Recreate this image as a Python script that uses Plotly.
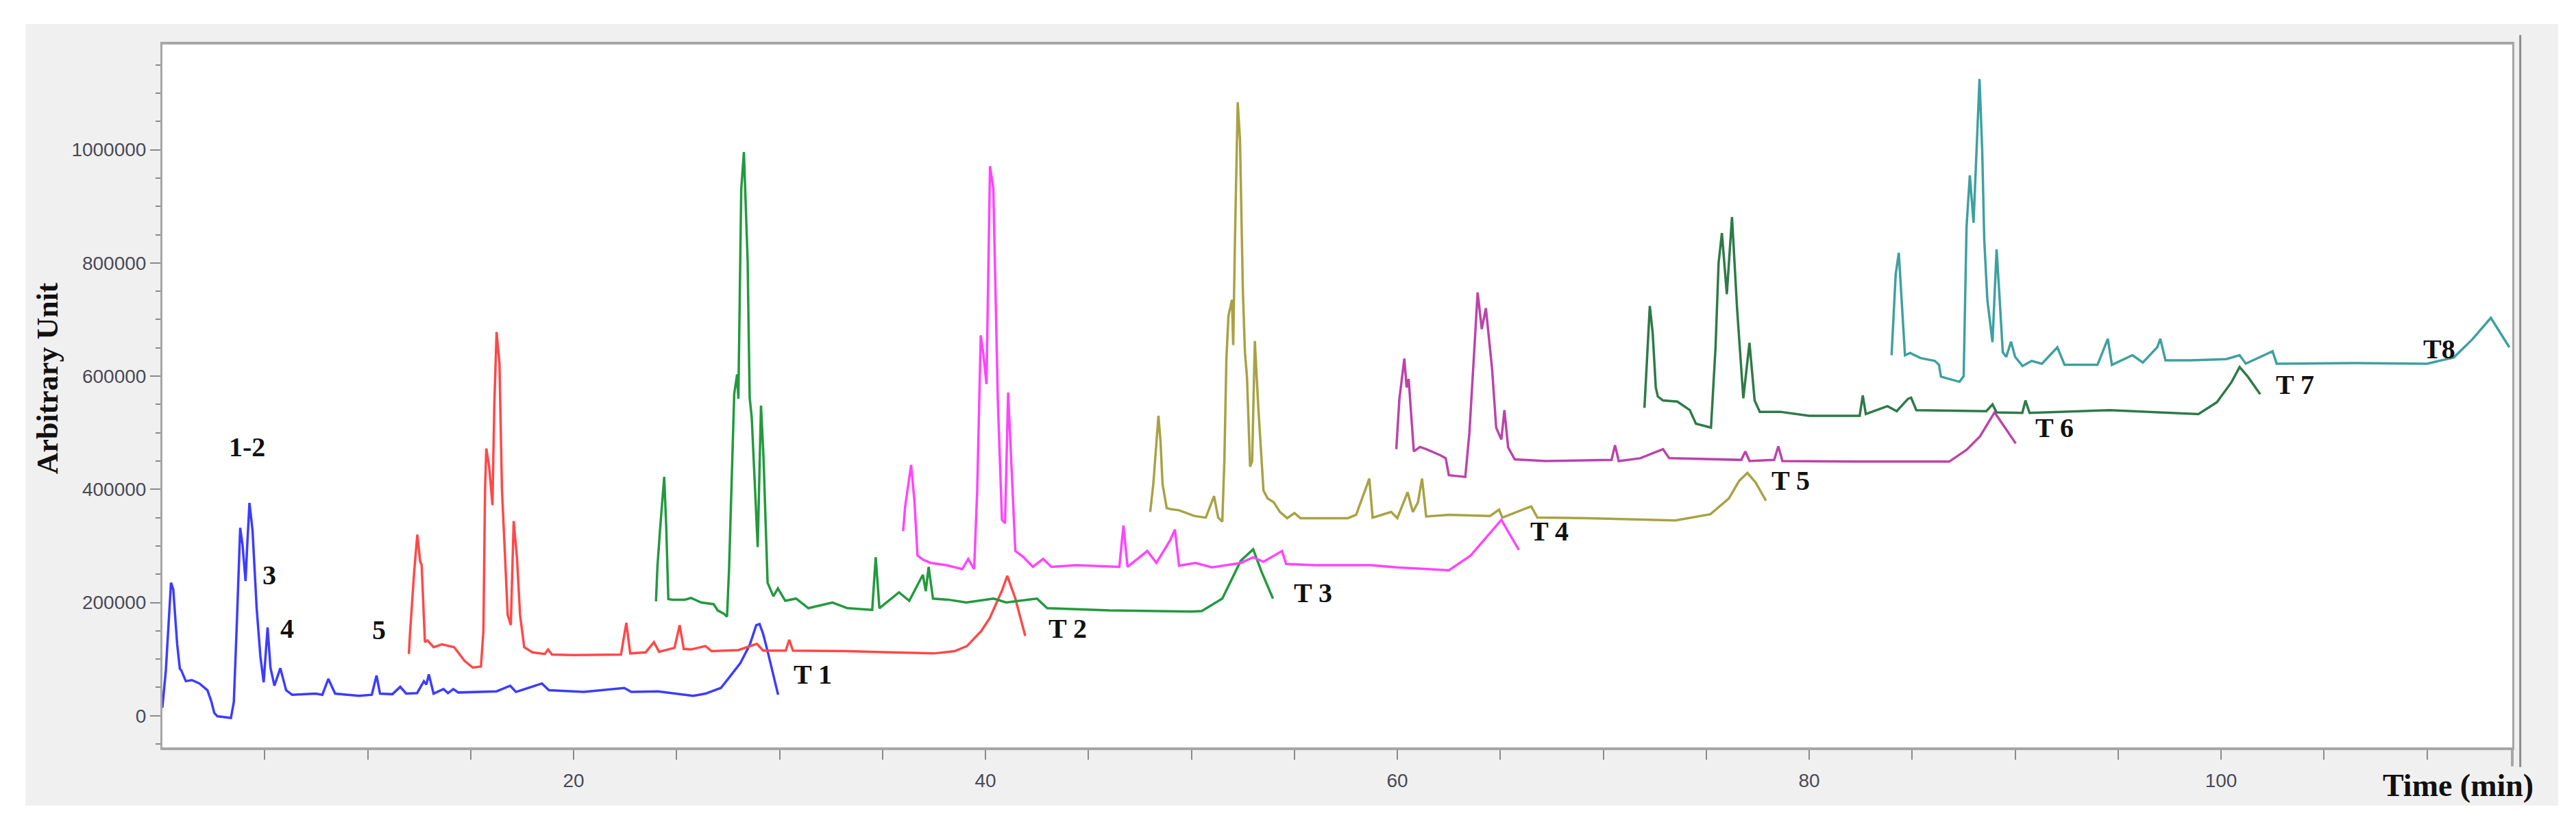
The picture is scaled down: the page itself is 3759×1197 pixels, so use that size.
import plotly.graph_objects as go

# chromatograms, time (min) / intensity (arbitrary unit)
t1_time = [0.03, 0.2, 0.45, 0.56, 0.75, 0.88, 0.95, 1.17, 1.46, 1.83, 2.22, 2.41, 2.55, 2.7, 3.36, 3.5, 3.65, 3.81, 3.92, 4.07, 4.15, 4.26, 4.41, 4.61, 4.79, 4.95, 5.14, 5.28, 5.47, 5.76, 6.04, 6.33, 7.47, 7.8, 8.09, 8.42, 9.57, 10.2, 10.43, 10.6, 11.2, 11.58, 11.87, 12.4, 12.73, 12.85, 12.97, 13.2, 13.68, 13.9, 14.16, 14.4, 16.26, 16.92, 17.2, 18.46, 18.8, 20.5, 22.46, 22.8, 24.1, 25.8, 26.4, 27.15, 27.5, 28.1, 28.55, 28.87, 29.03, 29.2, 29.4, 29.7, 29.93]
t1_signal = [14000, 80000, 235000, 223000, 126000, 83000, 80000, 61000, 63000, 57000, 45000, 25000, 5000, -1000, -4000, 24000, 166000, 332000, 303000, 238000, 300000, 376000, 327000, 190000, 105000, 59000, 156000, 85000, 53000, 84000, 45000, 37000, 39000, 37000, 65000, 39000, 35000, 37000, 71000, 39000, 38000, 51000, 39000, 40000, 61000, 55000, 73000, 39000, 47000, 40000, 47000, 41000, 43000, 53000, 42000, 57000, 45000, 42000, 49000, 42000, 43000, 35000, 39000, 49000, 65000, 93000, 125000, 160000, 162000, 145000, 117000, 70000, 37000]

t2_time = [12.0, 12.05, 12.25, 12.41, 12.55, 12.62, 12.78, 12.9, 13.2, 13.6, 14.2, 14.55, 14.7, 15.1, 15.5, 15.62, 15.7, 15.76, 15.9, 16.06, 16.15, 16.26, 16.4, 16.52, 16.6, 16.8, 16.95, 17.09, 17.25, 17.4, 17.6, 18.0, 18.6, 18.76, 18.95, 20.0, 22.3, 22.56, 22.75, 23.5, 23.9, 24.15, 24.9, 25.15, 25.35, 25.7, 26.4, 26.7, 28.0, 28.9, 29.2, 30.3, 30.47, 30.65, 33.3, 35.5, 37.5, 38.5, 39.1, 39.8, 40.2, 40.8, 41.06, 41.45, 41.93]
t2_signal = [109000, 142000, 250000, 320000, 272000, 267000, 130000, 133000, 121000, 126000, 121000, 105000, 97000, 85000, 87000, 150000, 400000, 472000, 440000, 372000, 550000, 678000, 622000, 400000, 335000, 178000, 160000, 344000, 279000, 178000, 121000, 112000, 109000, 117000, 108000, 107000, 108000, 164000, 110000, 112000, 130000, 113000, 120000, 160000, 118000, 117000, 123000, 114000, 116000, 127000, 115000, 115000, 134000, 115000, 114000, 112000, 110000, 114000, 123000, 150000, 172000, 221000, 247000, 207000, 141000]

t3_time = [24.0, 24.07, 24.2, 24.4, 24.5, 24.6, 24.8, 25.4, 25.7, 26.2, 26.8, 27.0, 27.3, 27.45, 27.55, 27.8, 27.94, 28.0, 28.14, 28.27, 28.45, 28.55, 28.65, 28.84, 28.94, 29.1, 29.22, 29.42, 29.7, 29.92, 30.28, 30.8, 31.4, 32.57, 33.3, 34.5, 34.67, 34.85, 35.8, 36.3, 36.96, 37.1, 37.24, 37.45, 38.2, 39.07, 40.4, 41.0, 42.5, 43.0, 46.0, 50.0, 50.5, 51.5, 52.4, 53.0, 53.4, 53.96]
t3_signal = [202000, 263000, 330000, 422000, 332000, 206000, 205000, 205000, 208000, 200000, 197000, 186000, 180000, 175000, 260000, 569000, 603000, 560000, 930000, 996000, 805000, 562000, 527000, 387000, 298000, 548000, 458000, 235000, 211000, 225000, 203000, 207000, 190000, 200000, 190000, 187000, 280000, 190000, 218000, 203000, 249000, 220000, 263000, 207000, 205000, 200000, 207000, 200000, 207000, 190000, 186000, 184000, 185000, 207000, 274000, 294000, 255000, 207000]

t4_time = [36.0, 36.1, 36.39, 36.5, 36.55, 36.7, 36.95, 37.34, 38.1, 38.87, 39.16, 39.45, 39.6, 39.77, 39.9, 40.05, 40.22, 40.38, 40.5, 40.6, 40.8, 40.95, 41.1, 41.25, 41.45, 41.85, 42.3, 42.8, 43.2, 44.4, 46.5, 46.7, 46.9, 47.86, 48.3, 48.98, 49.2, 49.4, 50.2, 51.0, 52.4, 53.0, 53.5, 54.4, 54.6, 56.0, 58.7, 60.0, 62.5, 63.56, 64.4, 65.05, 65.45, 65.9]
t4_signal = [326000, 370000, 443000, 402000, 380000, 283000, 276000, 270000, 266000, 259000, 277000, 259000, 400000, 672000, 638000, 586000, 971000, 932000, 700000, 557000, 346000, 340000, 571000, 458000, 291000, 280000, 263000, 277000, 263000, 266000, 263000, 336000, 263000, 291000, 270000, 311000, 329000, 265000, 270000, 262000, 270000, 280000, 272000, 291000, 268000, 266000, 266000, 262000, 257000, 283000, 318000, 346000, 321000, 293000]

t5_time = [48.0, 48.15, 48.4, 48.5, 48.6, 48.8, 49.0, 49.4, 50.14, 50.7, 51.1, 51.3, 51.5, 51.6, 51.7, 51.8, 51.97, 52.03, 52.12, 52.25, 52.36, 52.5, 52.6, 52.7, 52.85, 52.95, 53.08, 53.25, 53.5, 53.7, 54.0, 54.3, 54.65, 55.0, 55.3, 57.6, 58.0, 58.64, 58.8, 59.7, 60.0, 60.5, 60.75, 61.0, 61.2, 61.4, 62.5, 64.5, 64.94, 65.1, 66.5, 66.8, 69.3, 73.5, 75.2, 76.1, 76.6, 77.0, 77.4, 77.9]
t5_signal = [360000, 409000, 530000, 485000, 409000, 367000, 365000, 363000, 353000, 350000, 388000, 350000, 343000, 450000, 632000, 707000, 735000, 655000, 850000, 1084000, 1017000, 750000, 642000, 598000, 440000, 450000, 662000, 544000, 398000, 384000, 377000, 360000, 349000, 358000, 349000, 349000, 355000, 419000, 350000, 360000, 349000, 395000, 360000, 377000, 419000, 352000, 355000, 353000, 364000, 350000, 370000, 350000, 349000, 345000, 356000, 384000, 415000, 429000, 412000, 380000]

t6_time = [59.95, 60.1, 60.34, 60.45, 60.55, 60.7, 60.8, 61.1, 61.4, 62.1, 62.35, 62.5, 63.3, 63.5, 63.9, 64.1, 64.3, 64.6, 64.8, 65.05, 65.2, 65.38, 65.7, 67.2, 70.4, 70.57, 70.75, 71.8, 72.9, 73.2, 76.7, 76.9, 77.1, 78.3, 78.5, 78.7, 82.3, 86.8, 87.65, 88.3, 89.0, 89.45, 90.03]
t6_signal = [471000, 560000, 631000, 580000, 595000, 509000, 467000, 475000, 471000, 460000, 455000, 425000, 422000, 500000, 748000, 683000, 720000, 613000, 509000, 488000, 540000, 474000, 453000, 450000, 452000, 478000, 450000, 455000, 471000, 455000, 452000, 467000, 450000, 452000, 476000, 450000, 449000, 449000, 470000, 494000, 536000, 512000, 481000]

t7_time = [72.0, 72.1, 72.26, 72.4, 72.55, 72.65, 72.9, 73.6, 74.2, 74.5, 75.23, 75.45, 75.6, 75.76, 76.0, 76.25, 76.5, 76.8, 77.1, 77.35, 77.6, 78.6, 80.0, 82.45, 82.6, 82.75, 83.8, 84.25, 84.8, 84.95, 85.2, 88.6, 88.9, 89.1, 90.35, 90.5, 90.7, 94.6, 98.9, 99.8, 100.5, 100.9, 101.3, 101.9]
t7_signal = [544000, 620000, 724000, 676000, 580000, 564000, 557000, 555000, 540000, 516000, 509000, 650000, 800000, 853000, 745000, 881000, 718000, 561000, 659000, 557000, 537000, 537000, 530000, 530000, 566000, 533000, 547000, 538000, 560000, 562000, 540000, 538000, 550000, 536000, 535000, 557000, 535000, 540000, 533000, 554000, 589000, 616000, 599000, 568000]

t8_time = [84.0, 84.08, 84.2, 84.35, 84.45, 84.55, 84.65, 84.9, 85.4, 86.1, 86.3, 86.4, 87.3, 87.5, 87.64, 87.8, 87.98, 88.27, 88.4, 88.5, 88.65, 88.9, 89.1, 89.25, 89.4, 89.57, 89.8, 90.0, 90.36, 90.8, 91.3, 92.05, 92.4, 94.0, 94.5, 94.7, 95.7, 96.2, 96.9, 97.05, 97.3, 98.5, 100.25, 100.9, 101.2, 102.5, 102.7, 106.5, 110.0, 111.3, 112.2, 113.1, 113.5, 114.0]
t8_signal = [637000, 700000, 780000, 818000, 755000, 700000, 637000, 641000, 632000, 627000, 620000, 599000, 590000, 600000, 864000, 955000, 871000, 1125000, 1000000, 841000, 735000, 660000, 824000, 735000, 642000, 634000, 661000, 634000, 618000, 627000, 622000, 651000, 620000, 620000, 666000, 620000, 637000, 624000, 651000, 666000, 628000, 628000, 630000, 637000, 622000, 644000, 622000, 623000, 622000, 633000, 665000, 703000, 679000, 651000]

# peak / run labels
label_text = ["1-2", "3", "4", "5", "T 1", "T 2", "T 3", "T 4", "T 5", "T 6", "T 7", "T8"]
label_time = [4.13, 5.23, 6.09, 10.55, 31.6, 44.0, 55.9, 67.4, 79.1, 91.9, 103.6, 110.6]
label_signal = [475000, 248000, 154000, 152000, 72700, 154000, 217000, 326000, 416000, 509000, 585000, 648000]

runs = [
    (t1_time, t1_signal, "#3c3cff"),
    (t2_time, t2_signal, "#ff4848"),
    (t3_time, t3_signal, "#23993f"),
    (t4_time, t4_signal, "#ff44ff"),
    (t5_time, t5_signal, "#a8a244"),
    (t6_time, t6_signal, "#bb44aa"),
    (t7_time, t7_signal, "#2e7a48"),
    (t8_time, t8_signal, "#3fa0a0"),
]

fig = go.Figure()
for i, (tt, ss, col) in enumerate(runs):
    fig.add_trace(go.Scatter(x=tt, y=ss, mode="lines", name="T %d" % (i + 1),
                             line=dict(color=col, width=3.5)))

serif = "Liberation Serif, Times New Roman, serif"
for txt, tx, ty in zip(label_text, label_time, label_signal):
    fig.add_annotation(x=tx, y=ty, text="<b>%s</b>" % txt, showarrow=False,
                       xanchor="center", yanchor="middle",
                       font=dict(family=serif, size=40, color="#111111"))

fig.add_annotation(xref="paper", yref="paper", x=-0.049, y=0.525, text="<b>Arbitrary Unit</b>",
                   textangle=-90, showarrow=False, xanchor="center", yanchor="middle",
                   font=dict(family=serif, size=44, color="#111111"))
fig.add_annotation(xref="paper", yref="paper", x=0.977, y=-0.054, text="<b>Time (min)</b>",
                   showarrow=False, xanchor="center", yanchor="middle",
                   font=dict(family=serif, size=46, color="#111111"))

# grey panel behind the chart, white plotting area, double right frame
fig.add_shape(type="rect", xref="paper", yref="paper", x0=-0.0583, x1=1.0195, y0=-0.0828, y1=1.0292,
              fillcolor="#f0f0f0", line_width=0, layer="below")
fig.add_shape(type="rect", xref="paper", yref="paper", x0=0, x1=1, y0=0, y1=1,
              fillcolor="white", line_width=0, layer="below")
fig.add_shape(type="line", xref="paper", yref="paper", x0=1.0034, x1=1.0034, y0=-0.028, y1=1.0136,
              line=dict(color="#8c8c8c", width=3))
fig.add_shape(type="line", xref="paper", yref="paper", x0=1.0, x1=1.0, y0=-0.027, y1=0.0,
              line=dict(color="#a6a6a6", width=4))

tickfont = dict(family="Liberation Sans Narrow, Arial Narrow, Arial, sans-serif",
                size=28, color="#4a4a55")

fig.update_layout(
    width=3759, height=1197,
    margin=dict(l=229, r=101, t=57, b=114),
    paper_bgcolor="white", plot_bgcolor="white",
    showlegend=False,
    xaxis=dict(range=[0.033, 114.14], showgrid=False, zeroline=False,
               showline=True, mirror=True, linecolor="#a6a6a6", linewidth=4,
               tickmode="linear", tick0=0, dtick=20, ticks="outside", ticklen=14,
               tickwidth=2, tickcolor="#8a8a8a", tickfont=tickfont, ticklabelstandoff=6,
               minor=dict(tick0=0, dtick=5, ticks="outside", ticklen=14, tickwidth=2, tickcolor="#8a8a8a")),
    yaxis=dict(range=[-56000, 1186000], showgrid=False, zeroline=False,
               showline=True, mirror=True, linecolor="#a6a6a6", linewidth=3,
               tickmode="linear", tick0=0, dtick=200000, tickformat="d", ticks="outside", ticklen=15,
               tickwidth=2, tickcolor="#8a8a8a", tickfont=tickfont,
               minor=dict(tick0=0, dtick=50000, ticks="outside", ticklen=7, tickwidth=2, tickcolor="#8a8a8a")),
)

fig.write_html("out.html")
